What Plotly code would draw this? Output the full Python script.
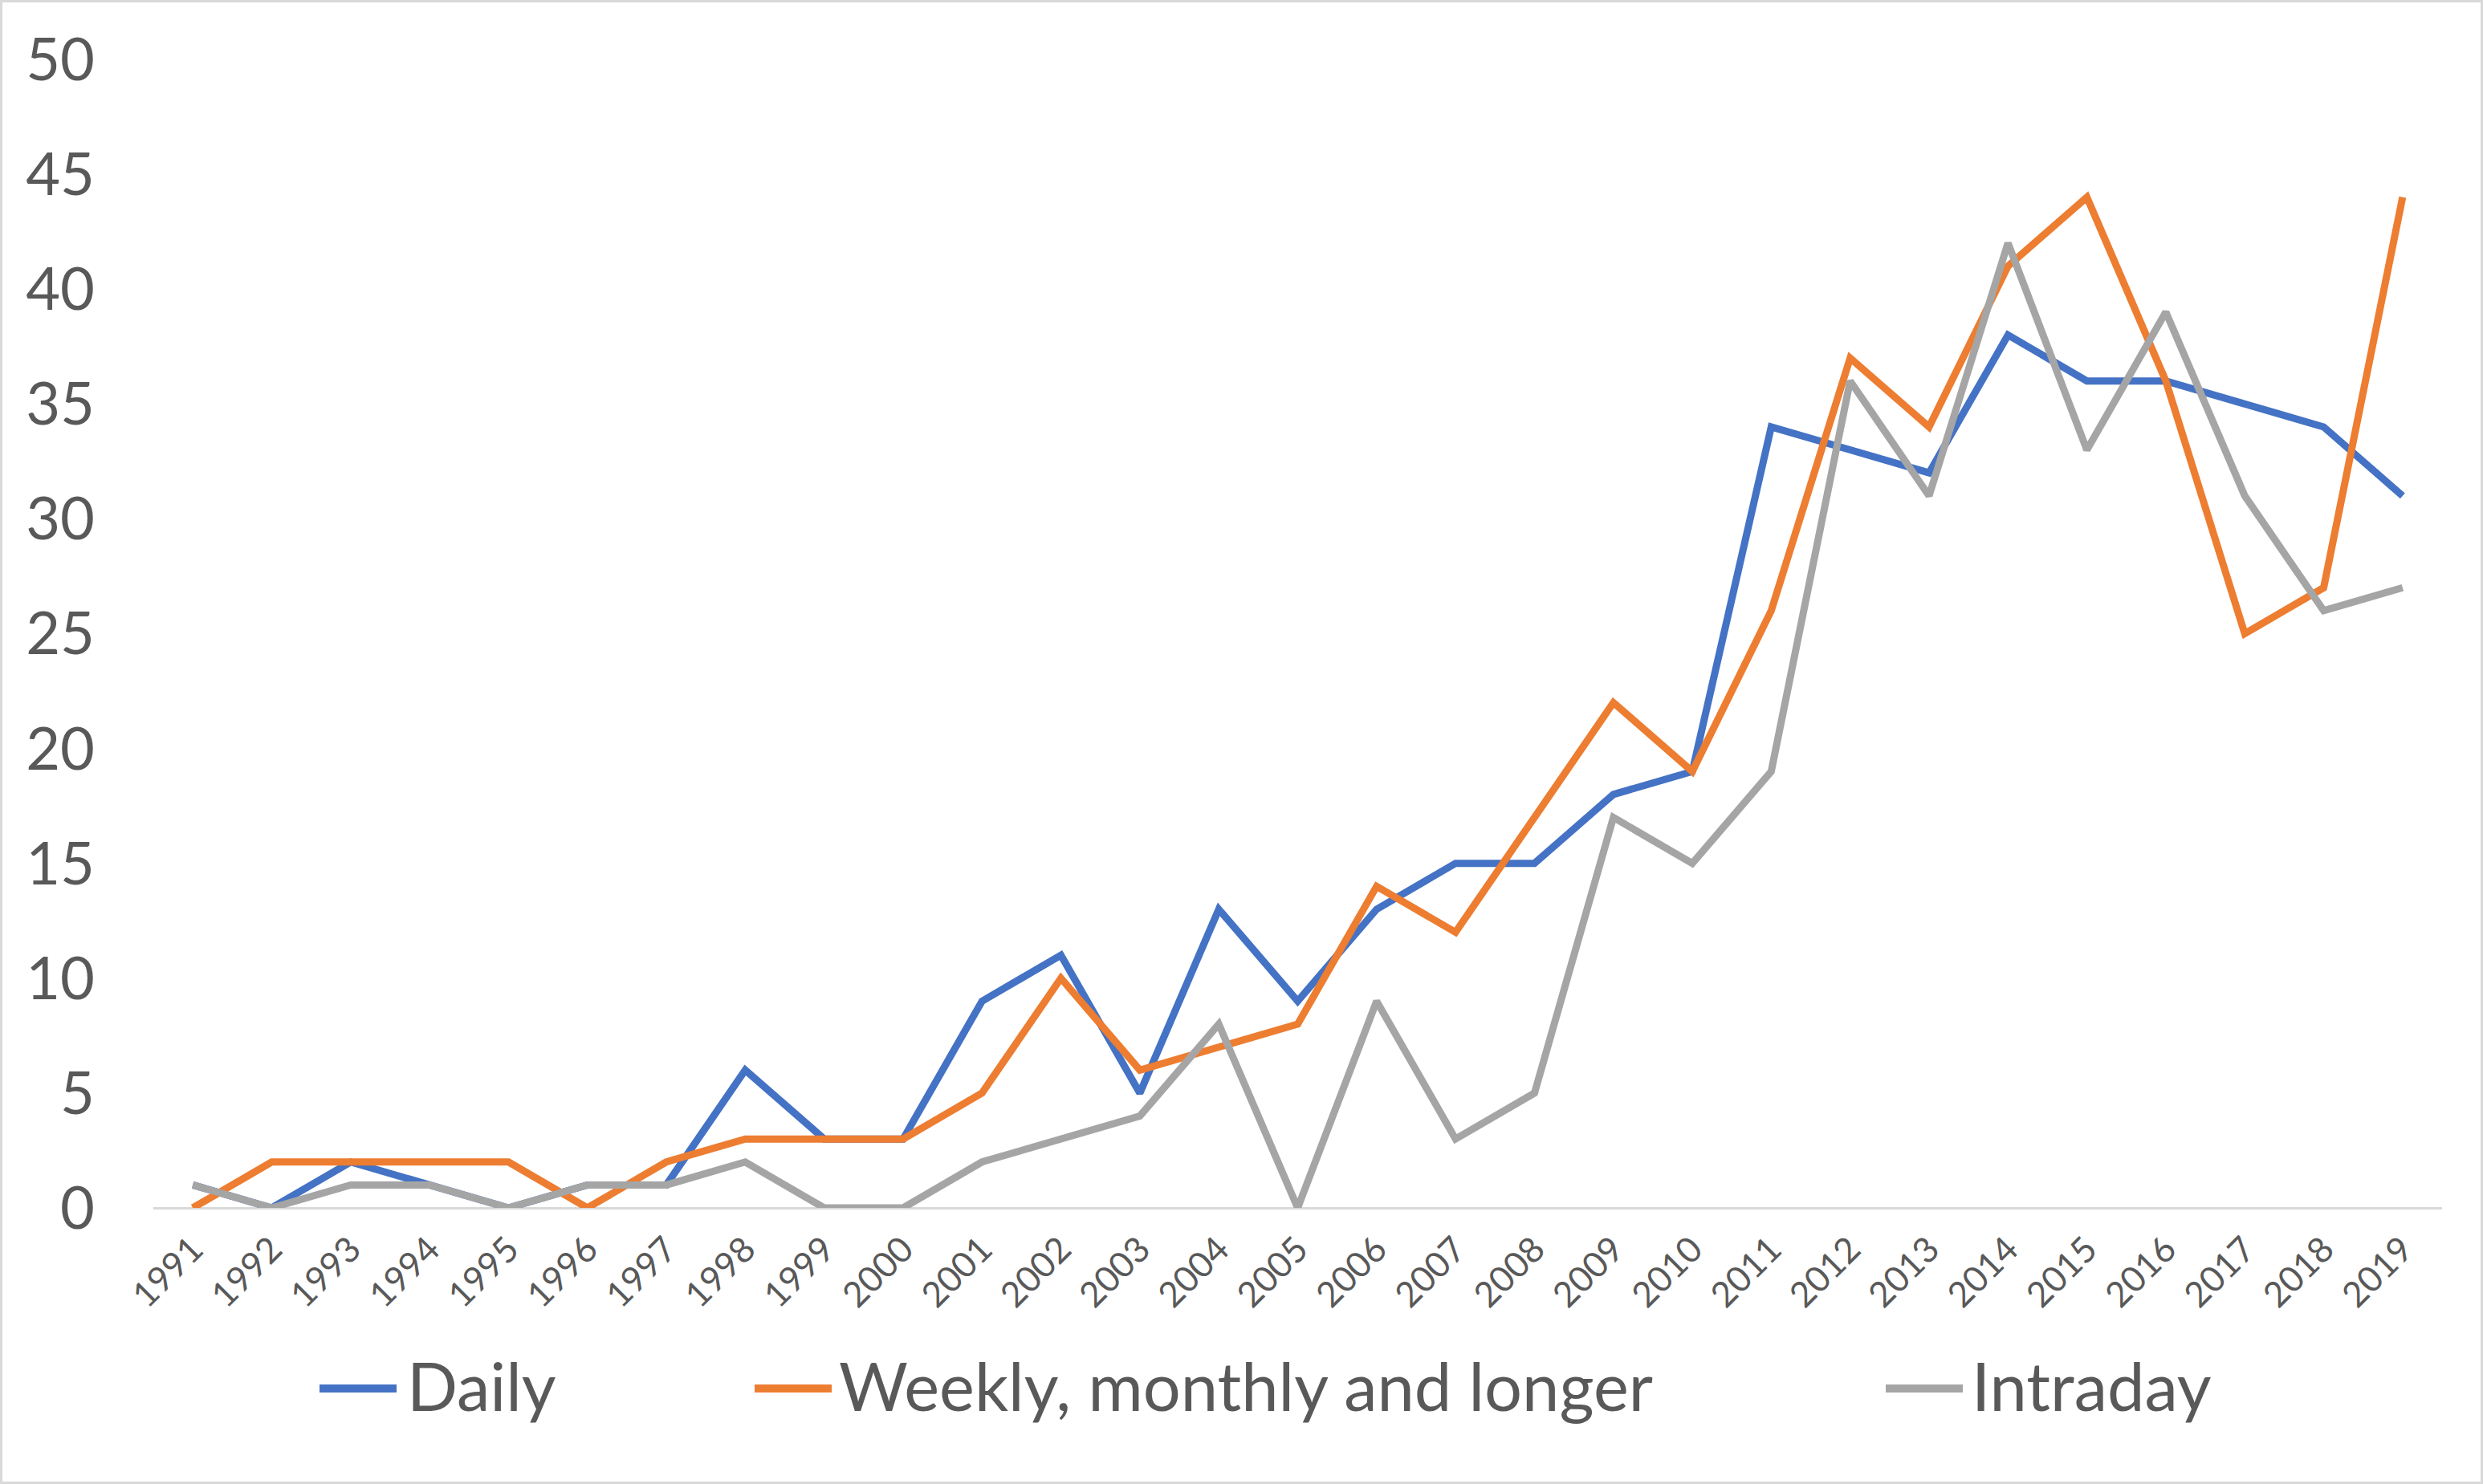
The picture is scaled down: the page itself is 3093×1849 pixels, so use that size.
import plotly.graph_objects as go

# years on the category axis
years = [str(y) for y in range(1991, 2020)]

daily = [1, 0, 2, 1, 0, 1, 1, 6, 3, 3, 9, 11, 5, 13, 9, 13, 15, 15, 18, 19,
         34, 33, 32, 38, 36, 36, 35, 34, 31]
weekly = [0, 2, 2, 2, 2, 0, 2, 3, 3, 3, 5, 10, 6, 7, 8, 14, 12, 17, 22, 19,
          26, 37, 34, 41, 44, 36, 25, 27, 44]
intraday = [1, 0, 1, 1, 0, 1, 1, 2, 0, 0, 2, 3, 4, 8, 0, 9, 3, 5, 17, 15,
            19, 36, 31, 42, 33, 39, 31, 26, 27]

series_names = ["Daily", "Weekly, monthly and longer", "Intraday"]
series_values = [daily, weekly, intraday]
colors = ["#4472C4", "#ED7D31", "#A5A5A5"]

W, H = 3093, 1849
ML, MR, MT, MB = 191, 51, 74, 344
PW, PH = W - ML - MR, H - MT - MB
TEXT = "#595959"
FONT = "Lato"


def px_x(p):
    return (p - ML) / PW


def px_y(p):
    return (H - MB - p) / PH


fig = go.Figure()
for name, vals, col in zip(series_names, series_values, colors):
    fig.add_trace(go.Scatter(x=years, y=vals, name=name, mode="lines",
                             line=dict(color=col, width=9),
                             showlegend=False))

# hand-made legend so the key lines are as long as in the original
legend_pos = [(398, 508), (940, 1046), (2349, 2457)]
shapes = []
annotations = []
for (lx, tx), name, col in zip(legend_pos, series_names, colors):
    shapes.append(dict(type="line", xref="paper", yref="paper",
                       x0=px_x(lx), x1=px_x(lx + 96), y0=px_y(1730), y1=px_y(1730),
                       line=dict(color=col, width=10)))
    annotations.append(dict(text=name, xref="paper", yref="paper",
                            x=px_x(tx - 3), y=px_y(1726), xanchor="left", yanchor="middle",
                            showarrow=False, font=dict(family=FONT, size=83, color=TEXT)))

# chart border
shapes.append(dict(type="rect", xref="paper", yref="paper",
                   x0=px_x(1.5), x1=px_x(W - 1.5), y0=px_y(H - 1.5), y1=px_y(1.5),
                   line=dict(color="#D9D9D9", width=3)))

fig.update_layout(
    width=W, height=H,
    margin=dict(l=ML, r=MR, t=MT, b=MB),
    paper_bgcolor="white", plot_bgcolor="white",
    font=dict(family=FONT, color=TEXT),
    shapes=shapes, annotations=annotations,
)
fig.update_xaxes(type="category", range=[-0.5, len(years) - 0.5],
                 showgrid=False, showline=False, ticks="",
                 tickangle=-45, tickfont=dict(family=FONT, size=44, color=TEXT),
                 ticklabelstandoff=16)
fig.update_yaxes(range=[0, 50], dtick=5, showgrid=False, showline=False, ticks="",
                 zeroline=True, zerolinecolor="#D9D9D9", zerolinewidth=3,
                 tickfont=dict(family=FONT, size=74, color=TEXT),
                 ticklabelstandoff=72)

fig.write_html("out.html", config={"displayModeBar": False},
               post_script="document.body.style.margin='0';")
